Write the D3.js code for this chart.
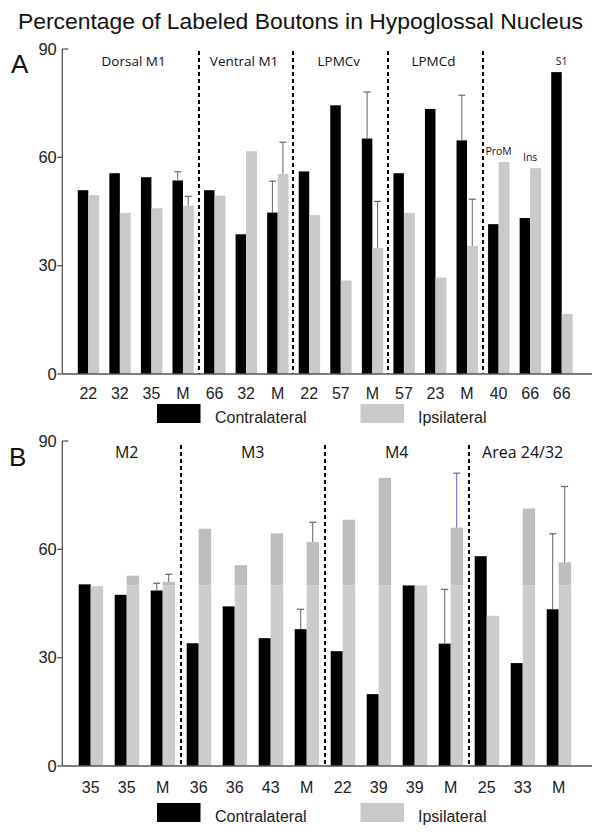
<!DOCTYPE html>
<html><head><meta charset="utf-8">
<script src="https://cdn.jsdelivr.net/npm/d3@7"></script>
<style>html,body{margin:0;padding:0;background:#fff;}</style>
</head><body>
<svg id="c" width="601" height="834"></svg>
<script>
// ---------- DATA ----------
const titleText = "Percentage of Labeled Boutons in Hypoglossal Nucleus";
const yTicks = [0, 30, 60, 90];

// Panel A
const aLabels = ["22","32","35","M","66","32","M","22","57","M","57","23","M","40","66","66"];
const aContra = [50.9,55.6,54.5,53.6,50.9,38.7,44.7,56.1,74.4,65.2,55.6,73.4,64.7,41.5,43.2,83.6];
const aIpsi   = [49.5,44.6,45.9,46.6,49.4,61.7,55.4,44.0,25.9,34.9,44.6,26.7,35.5,58.7,57.0,16.6];
const aContraErr = [null,null,null,56.0,null,null,53.4,null,null,78.1,null,null,77.2,null,null,null];
const aIpsiErr   = [null,null,null,49.2,null,null,64.2,null,null,47.8,null,null,48.4,null,null,null];
const aGroups = [
  {name:"Dorsal M1", start:0, end:3},
  {name:"Ventral M1", start:4, end:6},
  {name:"LPMCv", start:7, end:9},
  {name:"LPMCd", start:10, end:12},
  {name:"", start:13, end:15}
];
const aBarNotes = [{i:13, text:"ProM"},{i:14, text:"Ins"},{i:15, text:"S1"}];

// Panel B
const bLabels = ["35","35","M","36","36","43","M","22","39","39","M","25","33","M"];
const bContra = [50.3,47.4,48.6,34.0,44.2,35.4,37.9,31.8,19.9,50.0,33.9,58.1,28.5,43.4];
const bIpsi   = [49.8,52.7,51.0,65.7,55.6,64.4,62.0,68.2,79.8,50.0,66.0,41.6,71.3,56.4];
const bContraErr = [null,null,50.6,null,null,null,43.4,null,null,null,48.9,null,null,64.3];
const bIpsiErr   = [null,null,53.1,null,null,null,67.5,null,null,null,81.1,null,null,77.4];
const bIpsiErrBlue = [false,false,false,false,false,false,false,false,false,false,true,false,false,false];
const bGroups = [
  {name:"M2", start:0, end:2},
  {name:"M3", start:3, end:6},
  {name:"M4", start:7, end:10},
  {name:"Area 24/32", start:11, end:13}
];
const splitValue = 50;

const legendItems = ["Contralateral", "Ipsilateral"];

// ---------- STYLE ----------
const BLACK = "#000";
const GRAY = "#c9c9c9";
const GRAY_LO = "#cccccc";
const GRAY_HI = "#bdbdbd";
const AXIS = "#555";
const ERR = "#666";
const sans = "'Liberation Sans', Arial, Helvetica, sans-serif";
const hum = "'Open Sans', 'Noto Sans', sans-serif";

const svg = d3.select("#c");

svg.append("text").attr("x", 300.5).attr("y", 28.5).attr("text-anchor","middle")
  .attr("font-family", sans).attr("font-size", 22.9).attr("fill","#111").text(titleText);

function panel(opt) {
  const g = svg.append("g");
  const y = d3.scaleLinear().domain([0,90]).range([opt.y0, opt.y90]);
  const x = d3.scaleBand().domain(d3.range(opt.labels.length)).range(opt.xr).padding(0);
  const cx = i => x(i) + x.bandwidth()/2;

  // panel letter
  g.append("text").attr("x", opt.letterX).attr("y", opt.letterY)
    .attr("font-family", sans).attr("font-size", 26).attr("fill","#111").text(opt.letter);

  // dashed separators
  opt.groups.slice(1).forEach(gr => {
    const xs = Math.round(x(gr.start));
    g.append("line").attr("x1", xs).attr("x2", xs).attr("y1", opt.dashTop).attr("y2", y(0))
      .attr("stroke","#000").attr("stroke-width",2).attr("stroke-dasharray","4,3");
  });

  // bars
  const w1 = opt.bw;
  opt.contra.forEach((v,i) => {
    g.append("rect").attr("x", cx(i)-w1).attr("width", w1)
      .attr("y", y(v)).attr("height", y(0)-y(v)).attr("fill", BLACK);
  });
  opt.ipsi.forEach((v,i) => {
    if (opt.twoTone) {
      const lo = Math.min(v, splitValue);
      g.append("rect").attr("x", cx(i)).attr("width", w1+0.4)
        .attr("y", y(lo)).attr("height", y(0)-y(lo)).attr("fill", GRAY_LO);
      if (v > splitValue) {
        g.append("rect").attr("x", cx(i)).attr("width", w1+0.4)
          .attr("y", y(v)).attr("height", y(splitValue)-y(v)).attr("fill", GRAY_HI);
      }
    } else {
      g.append("rect").attr("x", cx(i)).attr("width", w1+0.4)
        .attr("y", y(v)).attr("height", y(0)-y(v)).attr("fill", GRAY);
    }
  });

  // error bars
  function err(xc, v, e, color) {
    g.append("line").attr("x1", xc).attr("x2", xc).attr("y1", y(v)).attr("y2", y(e))
      .attr("stroke", color).attr("stroke-width", 1);
    g.append("line").attr("x1", xc-3.5).attr("x2", xc+3.5).attr("y1", y(e)).attr("y2", y(e))
      .attr("stroke", color).attr("stroke-width", 1.2);
  }
  opt.contraErr.forEach((e,i) => { if (e != null) err(cx(i)-w1/2, opt.contra[i], e, ERR); });
  opt.ipsiErr.forEach((e,i) => { if (e != null) err(cx(i)+w1/2, opt.ipsi[i], e, (opt.blue && opt.blue[i]) ? "#6a5acd" : ERR); });

  // axes
  const axL = opt.xr[0] - opt.axPad;
  g.append("line").attr("x1", axL).attr("x2", axL).attr("y1", y(0)).attr("y2", y(90))
    .attr("stroke", AXIS).attr("stroke-width", 1.3);
  g.append("line").attr("x1", axL).attr("x2", 592).attr("y1", y(0)).attr("y2", y(0))
    .attr("stroke", AXIS).attr("stroke-width", 1.3);
  yTicks.forEach(t => {
    const up = t === 90;
    g.append("line").attr("x1", up ? axL : axL-5).attr("x2", up ? axL+6 : axL)
      .attr("y1", y(t)).attr("y2", y(t)).attr("stroke", AXIS).attr("stroke-width", 1.3);
    g.append("text").attr("x", axL-5.5).attr("y", y(t)).attr("dy","0.35em")
      .attr("text-anchor","end").attr("font-family", sans).attr("font-size", 16.5)
      .attr("fill","#222").text(t);
  });

  // x labels
  opt.labels.forEach((l,i) => {
    g.append("text").attr("x", cx(i)).attr("y", opt.xLabY).attr("text-anchor","middle")
      .attr("font-family", sans).attr("font-size", 16).attr("fill","#222").text(l);
  });

  // group titles
  opt.groups.forEach(gr => {
    if (!gr.name) return;
    const mx = (cx(gr.start) + cx(gr.end)) / 2 + opt.titleShift;
    g.append("text").attr("x", mx).attr("y", opt.titleY).attr("text-anchor","middle")
      .attr("font-family", opt.titleFont).attr("font-size", opt.titleSize).attr("fill","#111").text(gr.name);
  });

  // notes above bars
  (opt.notes || []).forEach(n => {
    const top = Math.max(opt.contra[n.i], opt.ipsi[n.i]);
    g.append("text").attr("x", cx(n.i)).attr("y", y(top)-7.5).attr("text-anchor","middle")
      .attr("font-family", hum).attr("font-size", 10.5).attr("fill","#111").text(n.text);
  });

  // legend
  const lg = svg.append("g");
  legendItems.forEach((name, k) => {
    const lx = k === 0 ? 157 : 360.5;
    lg.append("rect").attr("x", lx).attr("y", opt.legY).attr("width", 43.5).attr("height", 19)
      .attr("fill", k === 0 ? BLACK : GRAY);
    lg.append("text").attr("x", lx + (k === 0 ? 58 : 57.5)).attr("y", opt.legY + 19)
      .attr("font-family", sans).attr("font-size", 16).attr("fill","#222").text(name);
  });
}

panel({
  letter:"A", letterX:11, letterY:73,
  labels:aLabels, contra:aContra, ipsi:aIpsi, contraErr:aContraErr, ipsiErr:aIpsiErr,
  groups:aGroups, notes:aBarNotes,
  y0:374, y90:49, xr:[72.5, 577.5], axPad:10.2, bw:10.5, twoTone:false,
  dashTop:51, xLabY:399, titleY:66, titleFont:hum, titleSize:13.5, titleShift:-2,
  legY:404
});

panel({
  letter:"B", letterX:9, letterY:466,
  labels:bLabels, contra:bContra, ipsi:bIpsi, contraErr:bContraErr, ipsiErr:bIpsiErr, blue:bIpsiErrBlue,
  groups:bGroups,
  y0:766, y90:441, xr:[72.7, 576.7], axPad:10.4, bw:12, twoTone:true,
  dashTop:445, xLabY:793, titleY:458, titleFont:hum, titleSize:16, titleShift:0,
  legY:803
});
</script>
</body></html>
